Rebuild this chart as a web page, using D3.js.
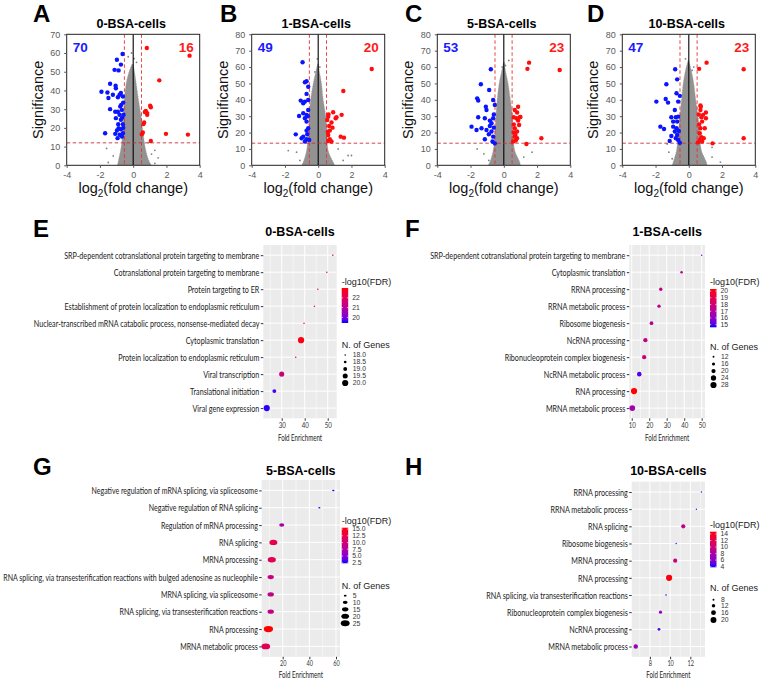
<!DOCTYPE html>
<html><head><meta charset="utf-8">
<script src="https://cdn.jsdelivr.net/npm/d3@7"></script>
<style>body{margin:0;background:#fff}svg{display:block}</style>
</head><body>
<script>
// ---------------- DATA ----------------
const volcanoTitles = ["0-BSA-cells","1-BSA-cells","5-BSA-cells","10-BSA-cells"];
const volcanoLetters = ["A","B","C","D"];
const downCounts = [70,49,53,47];
const upCounts = [16,20,23,23];
const sigMax = [70,80,80,80];
const sigTicks = [[0,10,20,30,40,50,60,70],[0,10,20,30,40,50,60,70,80],[0,10,20,30,40,50,60,70,80],[0,10,20,30,40,50,60,70,80]];
const fcTicks = [-4,-2,0,2,4];
const sigThreshold = [12,13.5,13.5,13.5];
const fcThreshold = [-0.53,0.5];

const blueA = [[-0.64,59.5],[-0.98,56.4],[-0.74,53.8],[-1.12,51],[-0.88,50.7],[-1.39,43.6],[-1.06,42.5],[-1.04,41.2],[-1.91,39.3],[-1.55,38.9],[-1.22,37.7],[-0.82,37.7],[-1.49,36],[-0.92,36.4],[-0.74,38.6],[-0.62,36.8],[-1.39,30],[-1.08,28.6],[-0.92,28.6],[-0.78,31.4],[-0.68,29.6],[-0.58,27],[-1.04,25.2],[-0.74,24.3],[-0.62,22],[-0.88,19.8],[-0.98,18.6],[-0.74,19.3],[-1.69,17.1],[-1.08,16.8],[-0.82,16.3],[-0.68,15.4],[-0.94,14.5],[-0.62,17.1],[-0.72,32.3],[-0.82,27],[-0.6,33.5],[-0.66,25.5],[-0.9,22],[-0.6,20]];
const redA = [[0.82,62.7],[3.39,58.6],[1.57,45.4],[0.76,29.1],[0.84,27],[1.02,31.8],[1.06,31],[0.84,27.9],[0.66,22.9],[0.62,22.1],[1.97,16.8],[3.29,16.4],[0.58,17.5],[0.52,16.6],[1.06,13],[0.7,28.5]];
const blueB = [[-0.94,62.9],[-0.70,51.3],[-0.80,50.7],[-0.70,43.6],[-1.05,39.5],[-0.80,38.9],[-0.9,37.9],[-0.9,31.8],[-1.15,30.1],[-0.70,30.8],[-0.80,28.7],[-0.6,33.8],[-0.7,26.7],[-0.6,22.6],[-0.7,21.2],[-1.35,18.9],[-0.9,17.5],[-0.7,15.9],[-0.8,14.5],[-0.54,15.5],[-0.6,39.9],[-0.6,48],[-0.62,30],[-0.66,19],[-1.0,16.5]];
const redB = [[3.22,58.8],[1.51,45.4],[1.41,30.8],[0.9,32.4],[1.1,29.3],[1.05,28.7],[0.6,29.7],[0.54,27.7],[0.8,26.1],[0.86,23],[0.7,21.2],[0.6,18.5],[0.7,15.9],[0.8,14.5],[1.35,17.5],[1.55,16.9],[0.6,14.8],[0.66,24],[0.58,20.5],[0.62,31]];
const blueC = [[-0.78,58.7],[-1.38,49.5],[-0.88,46],[-1.6,40.9],[-1.54,39.5],[-1.08,35.8],[-1.04,33.8],[-0.64,39.9],[-0.54,36.9],[-1.54,29.3],[-1.14,28.7],[-0.84,27.3],[-0.74,25.7],[-0.84,24],[-0.64,28.7],[-1.94,23.6],[-1.64,21.6],[-1.34,22.6],[-1.04,21.6],[-0.74,20.6],[-1.14,15.9],[-0.64,17.5],[-0.68,14.5],[-0.54,13.4],[-0.6,23],[-0.9,19],[-0.6,31]];
const redC = [[1.52,62.7],[1.42,58.9],[3.36,58.2],[0.86,35.8],[0.66,33.8],[0.8,32.2],[0.96,29.3],[0.76,28.7],[0.6,29.3],[0.86,27.3],[0.66,22.6],[0.92,24.6],[0.8,20.6],[0.66,17.5],[0.8,16.5],[0.56,14.5],[0.72,15.1],[1.36,13],[2.26,16.5],[0.6,25],[1.0,29.5],[0.7,18.5],[0.6,20]];
const blueD = [[-0.82,58.7],[-0.70,52.5],[-1.35,49.5],[-0.74,44],[-0.54,42.4],[-1.95,38.9],[-1.39,40.5],[-1.25,38.3],[-0.84,33.8],[-1.05,29.3],[-0.78,29.3],[-0.64,29.7],[-0.94,26.7],[-0.70,26.7],[-1.71,23.6],[-1.49,22.2],[-0.94,23.6],[-0.74,22.6],[-0.84,20.6],[-1.05,17.9],[-0.78,16.5],[-0.64,15.5],[-1.15,14.9],[-0.54,13.8],[-0.64,38.9],[-0.6,21],[-0.7,18.5]];
const redD = [[1.07,62.7],[0.62,58.9],[3.3,58.7],[0.72,35.8],[0.7,33.8],[1.03,32.2],[0.86,30.8],[0.76,29.3],[1.03,28.7],[0.8,26.7],[0.7,22.6],[0.96,22.6],[0.76,17.1],[0.9,16.5],[0.66,15.5],[0.8,14.5],[1.43,13.4],[3.3,16.5],[0.66,19.6],[0.6,31],[0.62,25],[0.55,14],[0.7,36.5]];

// grey (non-significant) gene cloud envelope: significance levels and left/right fold-change limits
const cloudYA = [0,3,8,13,20,26,35,44,50,54];
const cloudLoA = [-0.95,-0.88,-0.76,-0.68,-0.63,-0.58,-0.54,-0.42,-0.25,-0.08];
const cloudHiA = [1.1,0.92,0.76,0.66,0.56,0.48,0.32,0.18,0.08,0.0];
const cloudYB = [0,2,9,20,30,40,50,57,62];
const cloudLoB = [-1.0,-0.9,-0.7,-0.6,-0.54,-0.46,-0.3,-0.15,-0.03];
const cloudHiB = [1.0,0.9,0.6,0.54,0.46,0.3,0.2,0.08,0.02];
const cloudYC = [0,2,9,20,30,40,50,58,63];
const cloudLoC = [-0.95,-0.84,-0.64,-0.54,-0.48,-0.4,-0.28,-0.12,-0.02];
const cloudHiC = [1.0,0.96,0.66,0.56,0.52,0.4,0.26,0.1,0.04];
const cloudYD = [0,2,9,20,30,40,50,58,64];
const cloudLoD = [-1.0,-0.94,-0.74,-0.64,-0.54,-0.44,-0.34,-0.2,-0.05];
const cloudHiD = [1.1,1.06,0.76,0.66,0.56,0.42,0.3,0.15,0.0];
// scattered grey outliers
const greyA = [[-1.5,1.5],[1.3,1],[1.5,4],[-1.2,5],[0.9,12],[1.3,8],[-0.1,60],[0.05,57],[-1.6,9],[1.1,6],[-0.3,58],[0.2,55]];
const greyB = [[-1.8,9],[1.8,6],[2.0,6],[-1.3,8],[1.2,10],[-0.05,65],[0.1,60],[-0.2,57],[1.5,3],[-1.1,3]];
const greyC = [[-1.6,10],[1.7,8],[-1.2,7],[0.3,64],[-0.1,60],[1.2,5],[-0.9,3],[0.1,61]];
const greyD = [[-1.3,13],[1.4,11],[1.9,2],[-1.2,8],[-0.2,65],[0.2,58],[1.4,5],[0.3,60],[-1.0,4]];

// GO enrichment panels
const enrichTitles = ["0-BSA-cells","1-BSA-cells","5-BSA-cells","10-BSA-cells"];
const enrichLetters = ["E","F","G","H"];
const termsE = ["SRP-dependent cotranslational protein targeting to membrane","Cotranslational protein targeting to membrane","Protein targeting to ER","Establishment of protein localization to endoplasmic reticulum","Nuclear-transcribed mRNA catabolic process, nonsense-mediated decay","Cytoplasmic translation","Protein localization to endoplasmic reticulum","Viral transcription","Translational initiation","Viral gene expression"];
const foldE = [52.2,49.6,45.7,44.2,39.7,38.4,36.1,30.0,26.8,23.5];
const fdrE = [22.9,22.8,22.6,22.4,22.3,22.9,22.0,21.4,19.6,19.5];
const genesE = [18,18,18,18,18,20,18,19.5,19,20];
const fdrTicksE = [20,21,22];
const geneTicksE = [18,18.5,19,19.5,20];

const termsF = ["SRP-dependent cotranslational protein targeting to membrane","Cytoplasmic translation","RRNA processing","RRNA metabolic process","Ribosome biogenesis","NcRNA processing","Ribonucleoprotein complex biogenesis","NcRNA metabolic process","RNA processing","MRNA metabolic process"];
const foldF = [50.0,38.5,26.6,25.6,21.3,17.8,17.1,14.3,11.3,10.3];
const fdrF = [15.6,17.0,17.6,17.4,17.0,17.5,18.0,15.0,20.3,16.5];
const genesF = [11,14,17,17,18,20,20,21,28,26];
const fdrTicksF = [15,16,17,18,19,20];
const geneTicksF = [12,16,20,24,28];

const termsG = ["Negative regulation of mRNA splicing, via spliceosome","Negative regulation of RNA splicing","Regulation of mRNA processing","RNA splicing","MRNA processing","RNA splicing, via transesterification reactions with bulged adenosine as nucleophile","MRNA splicing, via spliceosome","RNA splicing, via transesterification reactions","RNA processing","MRNA metabolic process"];
const foldG = [58,47.5,19.3,13,11.8,11,11,11,9.3,7.3];
const fdrG = [2.3,2.8,7,12.5,12,9.5,9,9,15.5,12];
const genesG = [4,4,11,21,22,15,15,15,27,24];
const fdrTicksG = [2.5,5,7.5,10,12.5,15];
const geneTicksG = [5,10,15,20,25];

const termsH = ["RRNA processing","RRNA metabolic process","RNA splicing","Ribosome biogenesis","MRNA processing","RNA processing","RNA splicing, via transesterification reactions","Ribonucleoprotein complex biogenesis","NcRNA processing","MRNA metabolic process"];
const foldH = [13.1,12.6,11.3,10.6,10.5,9.9,9.6,9.05,8.9,6.6];
const fdrH = [5,5,9,5,10,14.5,3.8,7,4.5,7];
const genesH = [7,7,14,7,14,21,7,11,10,15];
const fdrTicksH = [4,6,8,10,12,14];
const geneTicksH = [8,12,16,20];

// ---------------- LAYOUT ----------------
const W = 760, H = 680;
const svg = d3.select("body").append("svg").attr("width", W).attr("height", H)
  .style("font-family", "'Liberation Sans', Arial, sans-serif");
svg.append("rect").attr("width", W).attr("height", H).attr("fill", "#fff");
const defs = svg.append("defs");

const volcanoSets = [
  {blue: blueA, red: redA, grey: greyA, cy: cloudYA, lo: cloudLoA, hi: cloudHiA},
  {blue: blueB, red: redB, grey: greyB, cy: cloudYB, lo: cloudLoB, hi: cloudHiB},
  {blue: blueC, red: redC, grey: greyC, cy: cloudYC, lo: cloudLoC, hi: cloudHiC},
  {blue: blueD, red: redD, grey: greyD, cy: cloudYD, lo: cloudLoD, hi: cloudHiD}
];
const vLeft = [66.7, 251.7, 437.3, 622.3];
const vLetterX = [33, 220, 405, 587];
const vTop = 34.3, vBottom = 165.3, vWidth = 133;

volcanoSets.forEach((d, i) => {
  const L = vLeft[i], R = L + vWidth;
  const x = d3.scaleLinear().domain([-4, 4]).range([L, R]);
  const y = d3.scaleLinear().domain([0, sigMax[i]]).range([vBottom, vTop]);
  const g = svg.append("g");
  const cid = "vclip" + i;
  defs.append("clipPath").attr("id", cid).append("rect")
    .attr("x", L).attr("y", vTop).attr("width", R - L).attr("height", vBottom - vTop);
  const pg = g.append("g").attr("clip-path", `url(#${cid})`);

  const cloud = d.cy.map((v, k) => ({s: v, lo: d.lo[k], hi: d.hi[k]}));
  pg.append("path").datum(cloud)
    .attr("d", d3.area().curve(d3.curveCatmullRom).y(p => y(p.s)).x0(p => x(p.lo)).x1(p => x(p.hi)))
    .attr("fill", "#929292").attr("stroke", "#a8a8a8").attr("stroke-width", 0.8).attr("stroke-dasharray", "1,1.5");
  pg.selectAll("circle.g").data(d.grey).join("circle").attr("class", "g")
    .attr("cx", p => x(p[0])).attr("cy", p => y(p[1])).attr("r", 0.9).attr("fill", "#808080");

  pg.append("line").attr("x1", x(0)).attr("x2", x(0)).attr("y1", vTop).attr("y2", vBottom)
    .attr("stroke", "#000").attr("stroke-width", 1.1);
  fcThreshold.forEach(t => pg.append("line").attr("x1", x(t)).attr("x2", x(t)).attr("y1", vTop).attr("y2", vBottom)
    .attr("stroke", "#e8302e").attr("stroke-width", 0.9).attr("stroke-dasharray", "3.5,2.5"));
  pg.append("line").attr("x1", L).attr("x2", R).attr("y1", y(sigThreshold[i])).attr("y2", y(sigThreshold[i]))
    .attr("stroke", "#c8323a").attr("stroke-width", 0.9).attr("stroke-dasharray", "3.5,2.5");

  pg.selectAll("circle.b").data(d.blue).join("circle").attr("class", "b")
    .attr("cx", p => x(p[0])).attr("cy", p => y(p[1])).attr("r", 2.2).attr("fill", "#0a14ff");
  pg.selectAll("circle.r").data(d.red).join("circle").attr("class", "r")
    .attr("cx", p => x(p[0])).attr("cy", p => y(p[1])).attr("r", 2.2).attr("fill", "#ff0d0d");

  g.append("rect").attr("x", L).attr("y", vTop).attr("width", R - L).attr("height", vBottom - vTop)
    .attr("fill", "none").attr("stroke", "#222").attr("stroke-width", 1);

  const ax = g.append("g").attr("transform", `translate(0,${vBottom})`)
    .call(d3.axisBottom(x).tickValues(fcTicks).tickSize(2.5).tickPadding(4).tickFormat(d3.format("d")));
  const ay = g.append("g").attr("transform", `translate(${L},0)`)
    .call(d3.axisLeft(y).tickValues(sigTicks[i]).tickSize(2.5).tickPadding(4));
  [ax, ay].forEach(a => {
    a.select(".domain").remove();
    a.selectAll(".tick line").attr("stroke", "#555");
    a.selectAll("text").attr("fill", "#5a5a5a").style("font-size", "9px").style("font-family", "'Liberation Sans', Arial, sans-serif");
  });
  ax.selectAll("text").text(v => v < 0 ? "-" + Math.abs(v) : v);

  g.append("text").attr("x", (L + R) / 2 - 2).attr("y", 28).attr("text-anchor", "middle")
    .style("font-size", "12.5px").style("font-weight", "bold").text(volcanoTitles[i]);
  g.append("text").attr("x", vLetterX[i]).attr("y", 21.5)
    .style("font-size", "24px").style("font-weight", "bold").text(volcanoLetters[i]);
  g.append("text").attr("transform", `translate(${L - 24},${(vTop + vBottom) / 2}) rotate(-90)`)
    .attr("text-anchor", "middle").style("font-size", "14.5px").attr("fill", "#111").text("Significance");
  const xl = g.append("text").attr("x", (L + R) / 2).attr("y", 193).attr("text-anchor", "middle")
    .style("font-size", "14.5px").attr("fill", "#111");
  xl.append("tspan").text("log");
  xl.append("tspan").attr("dy", 4).style("font-size", "10px").text("2");
  xl.append("tspan").attr("dy", -4).text("(fold change)");

  g.append("text").attr("x", L + 6).attr("y", 52).style("font-size", "13.5px").style("font-weight", "bold")
    .attr("fill", "#1a1aff").text(downCounts[i]);
  g.append("text").attr("x", R - 6).attr("y", 52).attr("text-anchor", "end").style("font-size", "13.5px").style("font-weight", "bold")
    .attr("fill", "#ff1a1a").text(upCounts[i]);
});

// ---------------- ENRICHMENT PANELS ----------------
const enrichSets = [
  {terms: termsE, fold: foldE, fdr: fdrE, genes: genesE, fdrTicks: fdrTicksE, geneTicks: geneTicksE, xTicks: [30,40,50], fmt: d3.format("d"), gfmt: d3.format(".1f")},
  {terms: termsF, fold: foldF, fdr: fdrF, genes: genesF, fdrTicks: fdrTicksF, geneTicks: geneTicksF, xTicks: [10,20,30,40,50], fmt: d3.format("d"), gfmt: d3.format("d")},
  {terms: termsG, fold: foldG, fdr: fdrG, genes: genesG, fdrTicks: fdrTicksG, geneTicks: geneTicksG, xTicks: [20,40,60], fmt: d3.format(".1f"), gfmt: d3.format("d")},
  {terms: termsH, fold: foldH, fdr: fdrH, genes: genesH, fdrTicks: fdrTicksH, geneTicks: geneTicksH, xTicks: [8,10,12], fmt: d3.format("d"), gfmt: d3.format("d")}
];
const eLayout = [
  {x0: 263.3, x1: 336.7, y0: 245, y1: 418.3, xd: [22, 53.9], cd: [19.43, 23], sd: [18, 20], lx: 341.7, cb: [288, 323], lt: 284.5, st: 347.5, sy: [355,362,369,376,383], title: 236, axt: 440.5, letter: [33, 237], ell: 1, tf: 8.5},
  {x0: 629.3, x1: 705, y0: 245, y1: 418.3, xd: [8.6, 51.9], cd: [14.6, 20.3], sd: [11, 28], lx: 710, cb: [289, 327.3], lt: 285, st: 349.5, sy: [356.7,364,371,378,385], title: 236, axt: 440.5, letter: [405, 237], ell: 1, tf: 8.5},
  {x0: 261.7, x1: 340, y0: 480, y1: 656.8, xd: [4.25, 63], cd: [2.3, 15.5], sd: [4, 27], lx: 341.7, cb: [527.7, 563.3], lt: 523.5, st: 588.5, sy: [595.7,602.3,609.3,616.3,623.3], title: 474.5, axt: 678, letter: [33, 475], ell: 1.5, tf: 7.8},
  {x0: 631.7, x1: 705, y0: 481.7, y1: 656.8, xd: [6.2, 13.45], cd: [3.8, 14.7], sd: [7, 21], lx: 710, cb: [531.7, 567.3], lt: 527.5, st: 591, sy: [599.7,605.7,612.7,620], title: 475, axt: 678, letter: [405, 475], ell: 1, tf: 7.8}
];
const catFont = "Lato, 'Liberation Sans', sans-serif";
const catSize = 10;
function textWidth(str) {
  const t = svg.append("text").style("font-family", catFont).style("font-size", catSize + "px").text(str);
  const w = t.node().getComputedTextLength();
  t.remove();
  return w;
}
// horizontal squeeze so that the category labels have the narrow look of the original
const squeezeBase = 226 / textWidth(termsE[4]);
const squeezeG = Math.min(squeezeBase, 255 / textWidth(termsG[5]));
const squeezes = [squeezeBase, squeezeBase, squeezeG, squeezeBase];

enrichSets.forEach((d, i) => {
  const lay = eLayout[i];
  const sq = squeezes[i];
  const g = svg.append("g");
  const x = d3.scaleLinear().domain(lay.xd).range([lay.x0, lay.x1]);
  const y = d3.scalePoint().domain(d.terms).range([lay.y0, lay.y1]).padding(0.6);
  const color = d3.scaleLinear().domain(lay.cd).range(["#0000ff", "#ff0000"]).interpolate(d3.interpolateLab).clamp(true);
  const size = d3.scaleSqrt().domain(lay.sd).range([0.75, 3.1]).clamp(true);

  g.append("rect").attr("x", lay.x0).attr("y", lay.y0).attr("width", lay.x1 - lay.x0).attr("height", lay.y1 - lay.y0).attr("fill", "#ebebeb");
  const step = d.xTicks[1] - d.xTicks[0];
  const minor = d3.range(d.xTicks[0] - step / 2, lay.xd[1], step).filter(v => v > lay.xd[0] && v < lay.xd[1]);
  g.selectAll("line.mn").data(minor).join("line").attr("class", "mn")
    .attr("x1", v => x(v)).attr("x2", v => x(v)).attr("y1", lay.y0).attr("y2", lay.y1).attr("stroke", "#fff").attr("stroke-width", 0.5);
  g.selectAll("line.mj").data(d.xTicks).join("line").attr("class", "mj")
    .attr("x1", v => x(v)).attr("x2", v => x(v)).attr("y1", lay.y0).attr("y2", lay.y1).attr("stroke", "#fff").attr("stroke-width", 1);
  g.selectAll("line.my").data(d.terms).join("line").attr("class", "my")
    .attr("x1", lay.x0).attr("x2", lay.x1).attr("y1", t => y(t)).attr("y2", t => y(t)).attr("stroke", "#fff").attr("stroke-width", 1);

  const rows = d.terms.map((t, k) => ({t, f: d.fold[k], q: d.fdr[k], n: d.genes[k]}));
  g.selectAll("ellipse.pt").data(rows).join("ellipse").attr("class", "pt")
    .attr("cx", r => x(r.f)).attr("cy", r => y(r.t))
    .attr("rx", r => size(r.n) * lay.ell).attr("ry", r => size(r.n))
    .attr("fill", r => color(r.q));

  const ay = g.append("g").attr("transform", `translate(${lay.x0},0)`).call(d3.axisLeft(y).tickSize(2.5).tickPadding(3));
  const ax = g.append("g").attr("transform", `translate(0,${lay.y1})`).call(d3.axisBottom(x).tickValues(d.xTicks).tickSize(2.5).tickPadding(1.5).tickFormat(d3.format("d")));
  [ax, ay].forEach(a => { a.select(".domain").remove(); a.selectAll(".tick line").attr("stroke", "#333"); });
  ay.selectAll("text").attr("fill", "#1a1a1a").style("font-size", catSize + "px").style("font-family", catFont)
    .attr("transform", `scale(${sq},1)`);
  ax.selectAll("text").attr("fill", "#333").style("font-size", lay.tf + "px").style("font-family", catFont)
    .attr("transform", `scale(${squeezeBase},1)`);

  g.append("text").attr("transform", `translate(${(lay.x0 + lay.x1) / 2},${lay.axt}) scale(${squeezeBase},1)`).attr("text-anchor", "middle")
    .style("font-size", "8.6px").style("font-family", catFont).attr("fill", "#222").text("Fold Enrichment");
  g.append("text").attr("x", (lay.x0 + lay.x1) / 2).attr("y", lay.title).attr("text-anchor", "middle")
    .style("font-size", "12.5px").style("font-weight", "bold").text(enrichTitles[i]);
  g.append("text").attr("x", lay.letter[0]).attr("y", lay.letter[1])
    .style("font-size", "24px").style("font-weight", "bold").text(enrichLetters[i]);

  // colour bar legend
  g.append("text").attr("x", lay.lx).attr("y", lay.lt).style("font-size", "9px").attr("fill", "#222").text("-log10(FDR)");
  const gid = "grad" + i;
  const grad = defs.append("linearGradient").attr("id", gid).attr("x1", 0).attr("y1", 1).attr("x2", 0).attr("y2", 0);
  d3.range(0, 1.0001, 0.1).forEach(t => grad.append("stop").attr("offset", t)
    .attr("stop-color", color(lay.cd[0] + t * (lay.cd[1] - lay.cd[0]))));
  const cy = d3.scaleLinear().domain(lay.cd).range([lay.cb[1], lay.cb[0]]);
  const bw = 6.5;
  g.append("rect").attr("x", lay.lx).attr("y", lay.cb[0]).attr("width", bw).attr("height", lay.cb[1] - lay.cb[0]).attr("fill", `url(#${gid})`);
  d.fdrTicks.forEach(v => {
    g.append("line").attr("x1", lay.lx).attr("x2", lay.lx + 1.3).attr("y1", cy(v)).attr("y2", cy(v)).attr("stroke", "#fff").attr("stroke-width", 0.6);
    g.append("line").attr("x1", lay.lx + bw - 1.3).attr("x2", lay.lx + bw).attr("y1", cy(v)).attr("y2", cy(v)).attr("stroke", "#fff").attr("stroke-width", 0.6);
    g.append("text").attr("x", lay.lx + bw + 4).attr("y", cy(v)).attr("dy", "0.35em").style("font-size", "6.8px").attr("fill", "#333")
      .text(d.fmt(v));
  });
  // size legend
  g.append("text").attr("x", lay.lx).attr("y", lay.st).style("font-size", "9px").attr("fill", "#222").text("N. of Genes");
  d.geneTicks.forEach((v, k) => {
    g.append("ellipse").attr("cx", lay.lx + 3.5).attr("cy", lay.sy[k]).attr("rx", size(v) * lay.ell).attr("ry", size(v)).attr("fill", "#000");
    g.append("text").attr("x", lay.lx + 11).attr("y", lay.sy[k]).attr("dy", "0.35em").style("font-size", "6.8px").attr("fill", "#333").text(d.gfmt(v));
  });
});
</script>
</body></html>
